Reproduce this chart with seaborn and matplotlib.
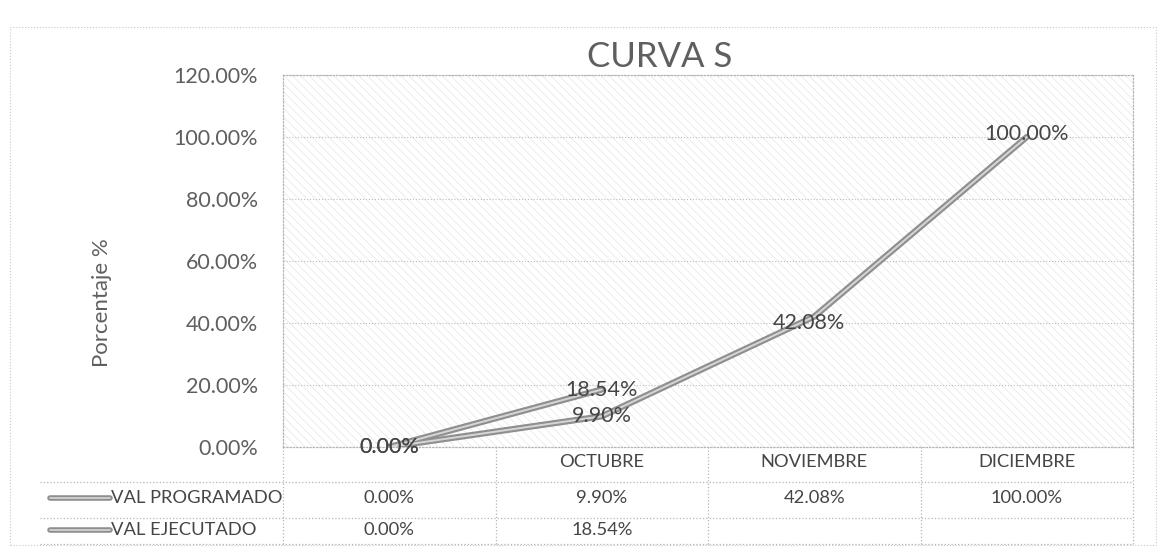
import numpy as np
import pandas as pd
import matplotlib
matplotlib.use('Agg')
import matplotlib.pyplot as plt
import matplotlib.transforms as mtransforms
from matplotlib.patches import Rectangle
import seaborn as sns

# Datos
categorias = ['', 'OCTUBRE', 'NOVIEMBRE', 'DICIEMBRE']
series = ['VAL PROGRAMADO', 'VAL EJECUTADO']
val_programado = [0.00, 9.90, 42.08, 100.00]
val_ejecutado = [0.00, 18.54, np.nan, np.nan]
y_ticks = [0, 20, 40, 60, 80, 100, 120]

sns.set_theme(style='white')
plt.rcParams['font.family'] = ['Lato', 'DejaVu Sans']
plt.rcParams['hatch.linewidth'] = 0.6

txt = '#5f5f5f'
txt2 = '#454545'
linea_osc = '#8f8f8f'
linea_clara = '#d6d6d6'
borde = '#b5b5b5'

df = pd.DataFrame({'pos': np.arange(len(categorias)),
                   series[0]: val_programado,
                   series[1]: val_ejecutado})
largo = df.melt(id_vars='pos', value_vars=series,
                var_name='serie', value_name='valor').dropna()

W, H = 1165, 546
fig = plt.figure(figsize=(W / 100, H / 100), dpi=100)
ax_l, ax_w = 283 / W, 850 / W
ax_b, ax_t = 1 - 447 / H, 1 - 75 / H
ax = fig.add_axes([ax_l, ax_b, ax_w, ax_t - ax_b])

# fondo con trama
ax.add_patch(Rectangle((0, 0), 1, 1, transform=ax.transAxes, facecolor='none',
                       edgecolor='#e9e9e9', hatch='\\\\\\\\', lw=0, zorder=0))

# lineas dobles (gris oscuro + centro claro)
sns.lineplot(data=largo, x='pos', y='valor', units='serie', estimator=None,
             color=linea_osc, lw=4.5, ax=ax, legend=False, zorder=3)
sns.lineplot(data=largo, x='pos', y='valor', units='serie', estimator=None,
             color=linea_clara, lw=1.4, ax=ax, legend=False, zorder=4)

ax.set_xlim(-0.5, len(categorias) - 0.5)
ax.set_ylim(0, 120)
ax.set_xticks([])
ax.set_yticks(y_ticks)
ax.set_yticklabels([f'{v:.2f}%' for v in y_ticks])
ax.tick_params(axis='y', length=0, pad=18, labelsize=15.5, labelcolor=txt)
ax.set_xlabel('')
ax.set_ylabel('')
ax.yaxis.grid(True, linestyle=':', color='#bcbcbc', lw=0.8)
for s in ax.spines.values():
    s.set_linestyle(':')
    s.set_color(borde)
    s.set_linewidth(0.9)

# etiquetas de datos
offsets = {(0, 0): (0, 0), (0, 1): (0, 0), (0, 2): (-4, -5), (0, 3): (0, 2),
           (1, 0): (0, 0), (1, 1): (0, 0)}
for i, vals in enumerate([val_programado, val_ejecutado]):
    for j, v in enumerate(vals):
        if np.isnan(v):
            continue
        ax.annotate(f'{v:.2f}%', (j, v), xytext=offsets[(i, j)],
                    textcoords='offset points', ha='center', va='center',
                    fontsize=15.5, color=txt2, zorder=5)

# titulo y eje
fig.text(660 / W, 1 - 57 / H, 'CURVA S', ha='center', va='center', fontsize=25,
         color=txt)
fig.text(102 / W, 1 - 303 / H, 'Porcentaje %', rotation=90, ha='center', va='center',
         fontsize=16, color=txt)

# tabla de datos
tr = mtransforms.blended_transform_factory(ax.transAxes, fig.transFigure)
ncol = len(categorias)
fila_y = [1 - 462 / H, 1 - 498 / H, 1 - 530 / H]
lineas_y = [1 - 482 / H, 1 - 518 / H, 0.003]
x_izq = (40 / W - ax_l) / ax_w
lk = dict(transform=tr, clip_on=False, ls=':', color=borde, lw=0.9)
for y in lineas_y:
    ax.plot([x_izq, 1], [y, y], **lk)
for k in range(ncol + 1):
    ax.plot([k / ncol, k / ncol], [0.003, ax_b], **lk)

for j, c in enumerate(categorias):
    ax.text((j + 0.5) / ncol, fila_y[0], c, transform=tr, ha='center',
            va='center', fontsize=13.2, color=txt2)

kx0 = (50 / W - ax_l) / ax_w
kx1 = (110 / W - ax_l) / ax_w
for i, (nombre, vals) in enumerate(zip(series, [val_programado, val_ejecutado])):
    y = fila_y[i + 1]
    ax.plot([kx0, kx1], [y, y], transform=tr, clip_on=False, color=linea_osc, lw=4)
    ax.plot([kx0, kx1], [y, y], transform=tr, clip_on=False, color=linea_clara, lw=1.2)
    fig.text(111 / W, y, nombre, ha='left', va='center', fontsize=13.2, color=txt2)
    for j, v in enumerate(vals):
        if np.isnan(v):
            continue
        ax.text((j + 0.5) / ncol, y, f'{v:.2f}%', transform=tr, ha='center',
                va='center', fontsize=13.2, color=txt2)

# marco exterior
fig.add_artist(Rectangle((10 / W, 0.002), 1146 / W, 1 - 27 / H - 0.002,
                         transform=fig.transFigure, fill=False, ls=':',
                         edgecolor='#c8c8c8', lw=0.8))

fig.savefig('out.png', dpi=100)
